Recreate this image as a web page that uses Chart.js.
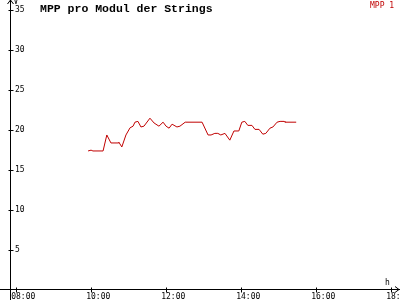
<!DOCTYPE html>
<html>
<head>
<meta charset="utf-8">
<script src="https://cdn.jsdelivr.net/npm/chart.js@4/dist/chart.umd.min.js"></script>
<style>
  html, body { margin: 0; padding: 0; background: #fff; }
  #wrap { width: 400px; height: 300px; }
</style>
</head>
<body>
<div id="wrap"><canvas id="grafico"></canvas></div>
<script>
// Uhrzeit in Stunden (dezimal) und Werte in V
const zeiten = [9.93, 10.01, 10.06, 10.33, 10.43, 10.54, 10.73, 10.75, 10.83, 10.94,
  11.05, 11.13, 11.18, 11.26, 11.34, 11.42, 11.58, 11.69, 11.82, 11.93,
  12.01, 12.09, 12.17, 12.30, 12.38, 12.52, 12.97, 13.13, 13.21, 13.31,
  13.39, 13.47, 13.58, 13.71, 13.82, 13.95, 14.03, 14.11, 14.19, 14.30,
  14.38, 14.49, 14.59, 14.67, 14.78, 14.86, 14.97, 15.05, 15.16, 15.18, 15.48];
const mpp1 = [17.4, 17.5, 17.4, 17.4, 19.4, 18.4, 18.4, 18.5, 17.9, 19.4,
  20.3, 20.5, 21.0, 21.1, 20.4, 20.5, 21.5, 20.9, 20.5, 21.0,
  20.5, 20.25, 20.75, 20.4, 20.5, 21.0, 21.0, 19.4, 19.4, 19.6,
  19.6, 19.4, 19.6, 18.75, 19.9, 19.9, 21.0, 21.1, 20.6, 20.6,
  20.1, 20.1, 19.5, 19.6, 20.25, 20.4, 21.0, 21.1, 21.1, 21.0, 21.0];
const xTicks = [8, 10, 12, 14, 16, 18];
const yTicks = [5, 10, 15, 20, 25, 30, 35];
const titel = "MPP pro Modul der Strings";
const serie = "MPP 1";

const rot = "#c00000";
const schrift = { family: "'DejaVu Sans Mono', monospace", size: 8 };

// Achsen mit Pfeilen, Strichen, Einheiten, Titel und Legende
const achsen = {
  id: "achsen",
  afterDraw(chart) {
    const { ctx, chartArea: a, scales: { x, y } } = chart;
    ctx.save();
    ctx.strokeStyle = "#000";
    ctx.lineWidth = 1;
    const x0 = Math.round(a.left) + 0.5;
    const y0 = Math.round(a.bottom) - 0.5;
    ctx.beginPath();
    ctx.moveTo(x0, 300); ctx.lineTo(x0, 0);
    ctx.moveTo(0, y0); ctx.lineTo(400, y0);
    // pfeile
    ctx.moveTo(x0 - 3, 4); ctx.lineTo(x0, 0); ctx.lineTo(x0 + 3, 4);
    ctx.moveTo(395, y0 - 3); ctx.lineTo(399, y0); ctx.lineTo(395, y0 + 3);
    xTicks.forEach(t => {
      const px = Math.round(x.getPixelForValue(t)) + 0.5;
      ctx.moveTo(px, y0 - 2); ctx.lineTo(px, y0 + 3);
    });
    yTicks.forEach(t => {
      const py = Math.round(y.getPixelForValue(t)) + 0.5;
      ctx.moveTo(x0 - 2, py); ctx.lineTo(x0 + 3, py);
    });
    ctx.stroke();

    ctx.fillStyle = "#000";
    ctx.font = "8px 'DejaVu Sans Mono'";
    ctx.textBaseline = "top";
    ctx.fillText("V", x0 + 3, -2);
    ctx.fillText("h", 385, y0 - 11);

    ctx.font = "bold 11.5px 'Liberation Mono'";
    ctx.fillText(titel, 40, 3);

    ctx.fillStyle = rot;
    ctx.font = "8px 'DejaVu Sans Mono'";
    ctx.fillText(serie, 370, 1.5);
    ctx.restore();
  }
};

new Chart(document.getElementById("grafico"), {
  type: "line",
  data: {
    datasets: [{
      label: serie,
      data: zeiten.map((t, i) => ({ x: t, y: mpp1[i] })),
      borderColor: rot,
      borderWidth: 1,
      pointRadius: 0,
      tension: 0,
      fill: false
    }]
  },
  options: {
    responsive: true,
    maintainAspectRatio: false,
    animation: false,
    layout: { padding: { left: 10, right: 2, top: 2, bottom: 0 } },
    plugins: {
      tooltip: { enabled: false },
      title: { display: false },
      legend: { display: false }
    },
    scales: {
      x: {
        type: "linear",
        min: 7.848,
        max: 18.195,
        grid: { display: false, drawTicks: false },
        border: { display: false },
        afterBuildTicks: s => { s.ticks = xTicks.map(v => ({ value: v })); },
        afterFit: s => { s.height = 10; s.paddingLeft = 0; s.paddingRight = 0; },
        ticks: {
          autoSkip: false,
          maxRotation: 0,
          align: "start",
          labelOffset: -4.5,
          padding: 2,
          color: "#000",
          font: schrift,
          callback: v => String(v).padStart(2, "0") + ":00"
        }
      },
      y: {
        min: 0,
        max: 36.04,
        grid: { display: false, drawTicks: false },
        border: { display: false },
        afterBuildTicks: s => { s.ticks = yTicks.map(v => ({ value: v })); },
        afterFit: s => { s.width = 0; s.paddingTop = 0; s.paddingBottom = 0; },
        ticks: {
          mirror: true,
          padding: 5,
          color: "#000",
          font: schrift
        }
      }
    }
  },
  plugins: [achsen]
});
</script>
</body>
</html>
